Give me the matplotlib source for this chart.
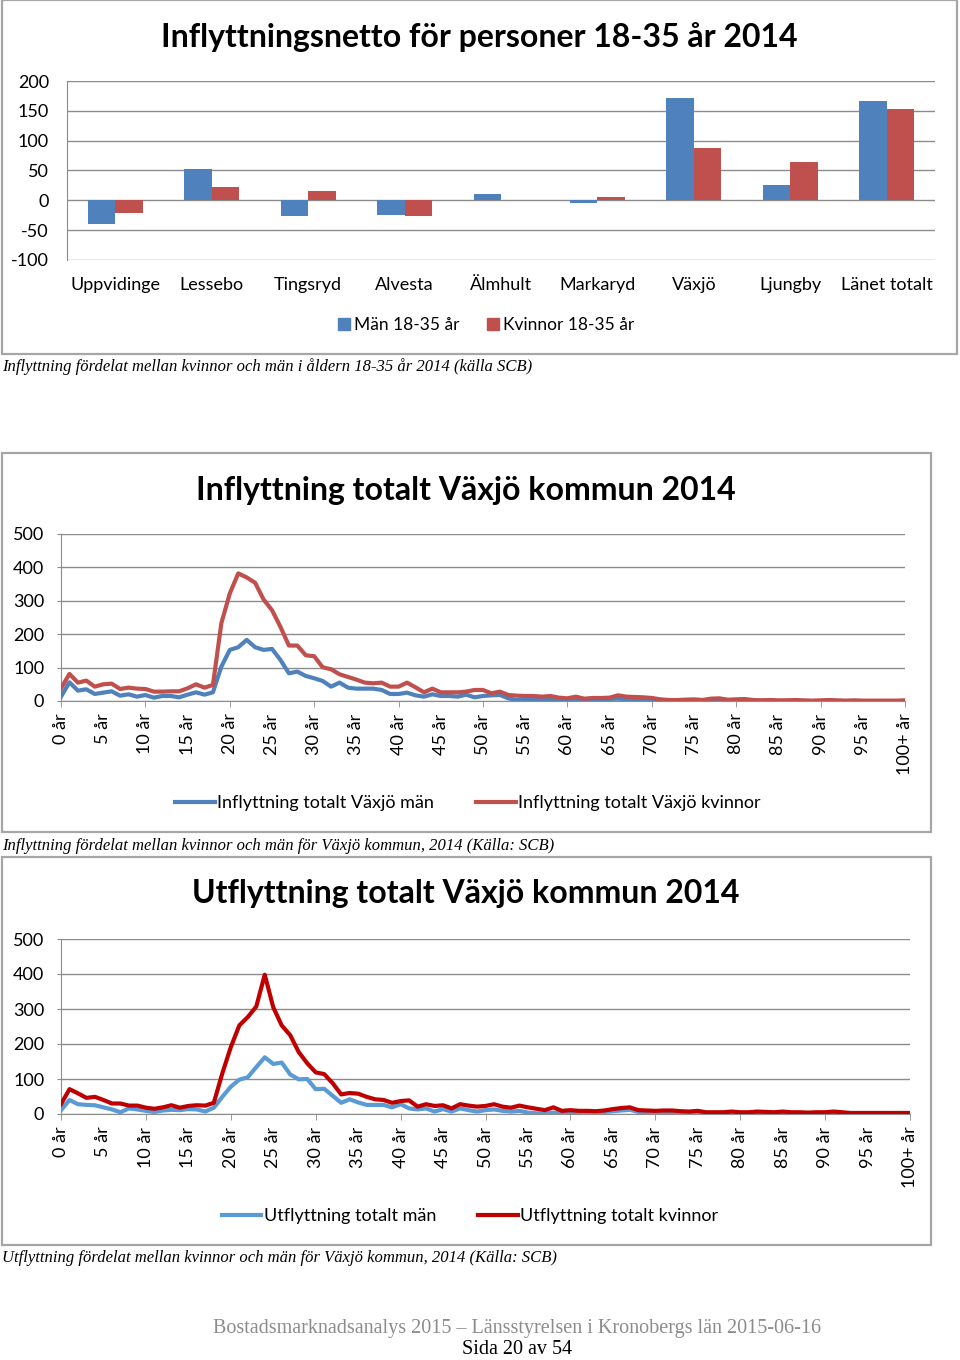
import matplotlib
matplotlib.use('Agg')
import matplotlib.pyplot as plt
from matplotlib.patches import Rectangle
from matplotlib.lines import Line2D
from matplotlib.ticker import MultipleLocator
import numpy as np

# ---------------- data ----------------
kommuner = ["Uppvidinge", "Lessebo", "Tingsryd", "Alvesta", "Älmhult",
            "Markaryd", "Växjö", "Ljungby", "Länet totalt"]
netto_man = [-40, 52, -26, -24, 10, -4, 171, 26, 167]
netto_kvinnor = [-22, 23, 15, -27, 0, 6, 88, 65, 153]

ages = list(range(0, 101))
age_labels = [f"{a} år" for a in range(0, 100, 5)] + ["100+ år"]

infl_man = [13, 56, 31, 35, 21, 25, 29, 16, 20, 13, 18, 10, 15, 15, 11, 19, 26, 19, 26, 103,
            153, 161, 183, 161, 153, 156, 123, 83, 88, 75, 68, 60, 43, 55, 40, 37, 37, 37, 33, 21,
            21, 25, 17, 13, 20, 15, 15, 13, 19, 11, 15, 17, 18, 8, 3, 5, 6, 5, 3, 4,
            3, 4, 3, 4, 5, 6, 7, 5, 4, 3, 2, 2, 1, 1, 2, 1, 1, 1, 1, 0,
            1, 1, 0, 1, 0, 0, 1, 0, 0, 0, 0, 0, 0, 0, 0, 0, 0, 0, 0, 0, 0]
infl_kvinnor = [38, 81, 55, 61, 43, 50, 52, 36, 40, 37, 36, 28, 28, 29, 29, 38, 50, 40, 48, 233,
                322, 382, 370, 354, 304, 272, 222, 166, 166, 137, 134, 101, 95, 80, 72, 64, 55, 53, 55, 43,
                43, 55, 41, 26, 37, 26, 26, 26, 28, 33, 33, 23, 28, 18, 16, 15, 15, 13, 15, 10,
                8, 13, 7, 9, 9, 10, 17, 13, 12, 11, 9, 5, 3, 3, 4, 5, 3, 7, 8, 4,
                5, 6, 3, 2, 3, 2, 2, 3, 2, 1, 2, 3, 2, 1, 2, 1, 1, 1, 1, 1, 2]

utfl_man = [11, 40, 28, 26, 25, 19, 13, 5, 16, 13, 9, 6, 10, 12, 11, 14, 13, 7, 18, 49,
            78, 98, 105, 134, 162, 143, 147, 113, 99, 100, 71, 72, 52, 32, 42, 33, 26, 26, 26, 19,
            28, 16, 13, 16, 7, 14, 7, 16, 11, 7, 11, 13, 9, 7, 9, 4, 2, 1, 4, 3,
            3, 4, 3, 5, 6, 8, 10, 12, 6, 4, 3, 3, 2, 2, 1, 1, 1, 1, 0, 1,
            0, 1, 0, 0, 1, 0, 0, 0, 0, 0, 0, 0, 0, 0, 0, 0, 0, 0, 0, 0, 0]
utfl_kvinnor = [28, 71, 59, 46, 49, 40, 30, 30, 24, 24, 18, 15, 19, 25, 18, 23, 25, 24, 32, 116,
                191, 253, 277, 307, 398, 305, 253, 225, 177, 145, 119, 114, 88, 56, 60, 58, 49, 42, 40, 32,
                37, 39, 21, 28, 23, 25, 16, 28, 24, 21, 23, 28, 21, 18, 24, 19, 15, 11, 19, 9,
                11, 9, 9, 8, 10, 14, 17, 19, 11, 10, 9, 10, 10, 8, 7, 9, 5, 5, 5, 7,
                5, 5, 7, 6, 5, 7, 5, 5, 4, 5, 5, 7, 5, 3, 3, 3, 3, 3, 3, 3, 3]

# ---------------- style ----------------
BLUE = "#4F81BD"
RED = "#C0504D"
BLUE2 = "#5B9BD5"
RED2 = "#C00000"
GRID = "#8C8C8C"
BORDER = "#A6A6A6"
SANS = "Lato"
SERIF = "Liberation Serif"

plt.rcParams['font.family'] = [SANS, 'DejaVu Sans']
plt.rcParams['axes.unicode_minus'] = False

W, H = 960, 1360
fig = plt.figure(figsize=(W / 100, H / 100), dpi=100)


def rect(x0, y0, x1, y1):
    return [x0 / W, 1 - y1 / H, (x1 - x0) / W, (y1 - y0) / H]


def fx(x):
    return x / W


def fy(y):
    return 1 - y / H


def box(x0, y0, x1, y1):
    fig.patches.append(Rectangle((fx(x0), fy(y1)), (x1 - x0) / W, (y1 - y0) / H,
                                 transform=fig.transFigure, fill=False,
                                 edgecolor=BORDER, lw=1.6))


# ---------------- chart 1: bars ----------------
box(2, 0, 957, 354)
fig.text(fx(479), fy(37), "Inflyttningsnetto för personer 18-35 år 2014",
         ha='center', va='center', fontsize=23, fontweight='bold')
ax1 = fig.add_axes(rect(67, 81, 935, 260))
x = np.arange(len(kommuner))
bw = 0.285
ax1.bar(x - bw / 2, netto_man, bw, color=BLUE, zorder=3)
ax1.bar(x + bw / 2, netto_kvinnor, bw, color=RED, zorder=3)
ax1.set_xlim(-0.5, len(kommuner) - 0.5)
ax1.set_ylim(-100, 200)
ax1.set_yticks(range(-100, 201, 50))
ax1.yaxis.grid(True, color=GRID, lw=1)
ax1.set_axisbelow(True)
for s in ['top', 'right', 'bottom']:
    ax1.spines[s].set_visible(False)
ax1.spines['left'].set_color(GRID)
ax1.set_xticks(x)
ax1.set_xticklabels(kommuner)
ax1.tick_params(axis='x', length=0, pad=12, labelsize=13)
ax1.tick_params(axis='y', length=0, pad=13, labelsize=13)
fig.legend(handles=[Rectangle((0, 0), 1, 1, color=BLUE), Rectangle((0, 0), 1, 1, color=RED)],
           labels=["Män 18-35 år", "Kvinnor 18-35 år"], loc='center',
           bbox_to_anchor=(fx(486), fy(325)), ncol=2, frameon=False, fontsize=12.5,
           handlelength=0.7, handleheight=0.7, handletextpad=0.2, columnspacing=1.6)
fig.text(fx(2), fy(367),
         "Inflyttning fördelat mellan kvinnor och män i åldern 18-35 år 2014 (källa SCB)",
         ha='left', va='center', fontsize=12, fontstyle='italic', family=SERIF)


# ---------------- line charts ----------------
def line_chart(axrect, title, title_xy, man, kvinnor, cm, ck, lab_m, lab_k, leg_xy):
    fig.text(fx(title_xy[0]), fy(title_xy[1]), title, ha='center', va='center',
             fontsize=23, fontweight='bold')
    ax = fig.add_axes(axrect)
    ax.plot(ages, man, color=cm, lw=3, solid_joinstyle='round', zorder=3)
    ax.plot(ages, kvinnor, color=ck, lw=3, solid_joinstyle='round', zorder=4)
    ax.set_xlim(0, 100)
    ax.set_ylim(0, 500)
    ax.set_yticks(range(0, 501, 100))
    ax.yaxis.grid(True, color=GRID, lw=1)
    ax.set_axisbelow(True)
    for s in ['top', 'right']:
        ax.spines[s].set_visible(False)
    ax.spines['left'].set_color(GRID)
    ax.spines['bottom'].set_color(GRID)
    ax.set_xticks(list(range(0, 101, 5)))
    ax.set_xticklabels(age_labels, rotation=90, va='top', ha='center')
    ax.xaxis.set_minor_locator(MultipleLocator(10))
    ax.xaxis.remove_overlapping_locs = False
    ax.tick_params(axis='x', which='major', length=0, pad=9, labelsize=13)
    ax.tick_params(axis='x', which='minor', length=4, color=GRID)
    ax.tick_params(axis='y', length=3, color=GRID, pad=9, labelsize=13)
    fig.legend(handles=[Line2D([], [], color=cm, lw=3), Line2D([], [], color=ck, lw=3)],
               labels=[lab_m, lab_k], loc='center', bbox_to_anchor=(fx(leg_xy[0]), fy(leg_xy[1])),
               ncol=2, frameon=False, fontsize=13, handlelength=2.2, handletextpad=0.15,
               columnspacing=2.3)
    return ax


box(2, 453, 931, 832)
line_chart(rect(61, 534, 905, 701), "Inflyttning totalt Växjö kommun 2014", (466, 490),
           infl_man, infl_kvinnor, BLUE, RED,
           "Inflyttning totalt Växjö män", "Inflyttning totalt Växjö kvinnor", (468, 803))
fig.text(fx(2), fy(846),
         "Inflyttning fördelat mellan kvinnor och män för Växjö kommun, 2014 (Källa: SCB)",
         ha='left', va='center', fontsize=12, fontstyle='italic', family=SERIF)

box(2, 857, 931, 1245)
line_chart(rect(61, 939, 910, 1114), "Utflyttning totalt Växjö kommun 2014", (466, 893),
           utfl_man, utfl_kvinnor, BLUE2, RED2,
           "Utflyttning totalt män", "Utflyttning totalt kvinnor", (470, 1216))
fig.text(fx(2), fy(1258),
         "Utflyttning fördelat mellan kvinnor och män för Växjö kommun, 2014 (Källa: SCB)",
         ha='left', va='center', fontsize=12, fontstyle='italic', family=SERIF)

# ---------------- footer ----------------
fig.text(fx(517), fy(1329),
         "Bostadsmarknadsanalys 2015 – Länsstyrelsen i Kronobergs län 2015-06-16",
         ha='center', va='center', fontsize=14.5, color='#8C8C8C', family=SERIF)
fig.text(fx(517), fy(1350), "Sida 20 av 54", ha='center', va='center',
         fontsize=14.5, color='black', family=SERIF)

fig.savefig("out.png", dpi=100, facecolor='white')
